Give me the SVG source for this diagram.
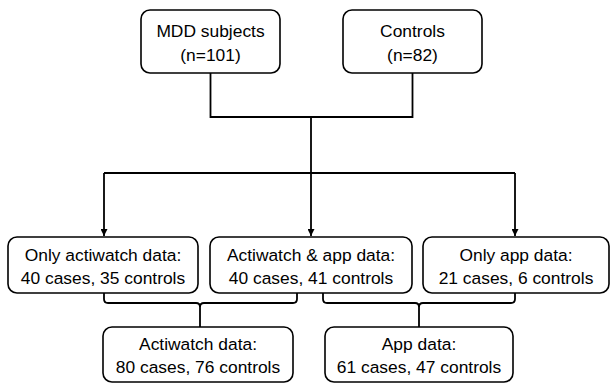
<svg xmlns="http://www.w3.org/2000/svg" width="611" height="383" viewBox="0 0 611 383">
  <style>
    .box { fill: #ffffff; stroke: #000000; stroke-width: 1.6; }
    .wire { fill: none; stroke: #000000; stroke-width: 1.8; }
    .label { font-family: "Liberation Sans", Arial, sans-serif; font-size: 17.4px; fill: #000000; text-anchor: middle; }
  </style>
  <defs>
    <marker id="arrow" viewBox="0 0 10 10" refX="10" refY="5" markerWidth="7" markerHeight="7" markerUnits="userSpaceOnUse" orient="auto">
      <path d="M0,0 L10,5 L0,10 Z" fill="#000000"/>
    </marker>
  </defs>
  <rect width="611" height="383" fill="#ffffff"/>

  <g id="connectors">
    <!-- merge of the two cohorts -->
    <path class="wire" d="M210.5,73 V117 H412.5 V73"/>
    <path class="wire" d="M311,117 V173"/>
    <path class="wire" d="M104,173 H515"/>
    <!-- split into the three data subsets -->
    <path class="wire" d="M104,173 V236" marker-end="url(#arrow)"/>
    <path class="wire" d="M311,173 V236" marker-end="url(#arrow)"/>
    <path class="wire" d="M515,173 V236" marker-end="url(#arrow)"/>
    <!-- braces joining subsets into totals -->
    <path class="wire" d="M104,293 V299 Q104,303 108,303 H196 Q200,303 200,307 V327"/>
    <path class="wire" d="M297,293 V299 Q297,303 293,303 H204 Q200,303 200,307"/>
    <path class="wire" d="M323,293 V299 Q323,303 327,303 H415 Q419,303 419,307 V327"/>
    <path class="wire" d="M515,293 V299 Q515,303 511,303 H423 Q419,303 419,307"/>
  </g>

  <g id="mdd">
    <rect class="box" x="141" y="10" width="139" height="63" rx="9"/>
    <text class="label" x="210.5" y="37">MDD subjects</text>
    <text class="label" x="210.5" y="61">(n=101)</text>
  </g>

  <g id="controls">
    <rect class="box" x="343" y="10" width="139" height="63" rx="9"/>
    <text class="label" x="412.5" y="37">Controls</text>
    <text class="label" x="412.5" y="61">(n=82)</text>
  </g>

  <g id="only-actiwatch">
    <rect class="box" x="8" y="237" width="190" height="56" rx="9"/>
    <text class="label" x="103" y="261">Only actiwatch data:</text>
    <text class="label" x="103" y="284">40 cases, 35 controls</text>
  </g>

  <g id="actiwatch-and-app">
    <rect class="box" x="210" y="237" width="202" height="56" rx="9"/>
    <text class="label" x="311" y="261">Actiwatch &amp; app data:</text>
    <text class="label" x="311" y="284">40 cases, 41 controls</text>
  </g>

  <g id="only-app">
    <rect class="box" x="423" y="237" width="186" height="56" rx="9"/>
    <text class="label" x="516" y="261">Only app data:</text>
    <text class="label" x="516" y="284">21 cases, 6 controls</text>
  </g>

  <g id="actiwatch-total">
    <rect class="box" x="103" y="327" width="190" height="55" rx="9"/>
    <text class="label" x="198" y="350">Actiwatch data:</text>
    <text class="label" x="198" y="373">80 cases, 76 controls</text>
  </g>

  <g id="app-total">
    <rect class="box" x="325" y="327" width="188" height="55" rx="9"/>
    <text class="label" x="419" y="350">App data:</text>
    <text class="label" x="419" y="373">61 cases, 47 controls</text>
  </g>
</svg>
